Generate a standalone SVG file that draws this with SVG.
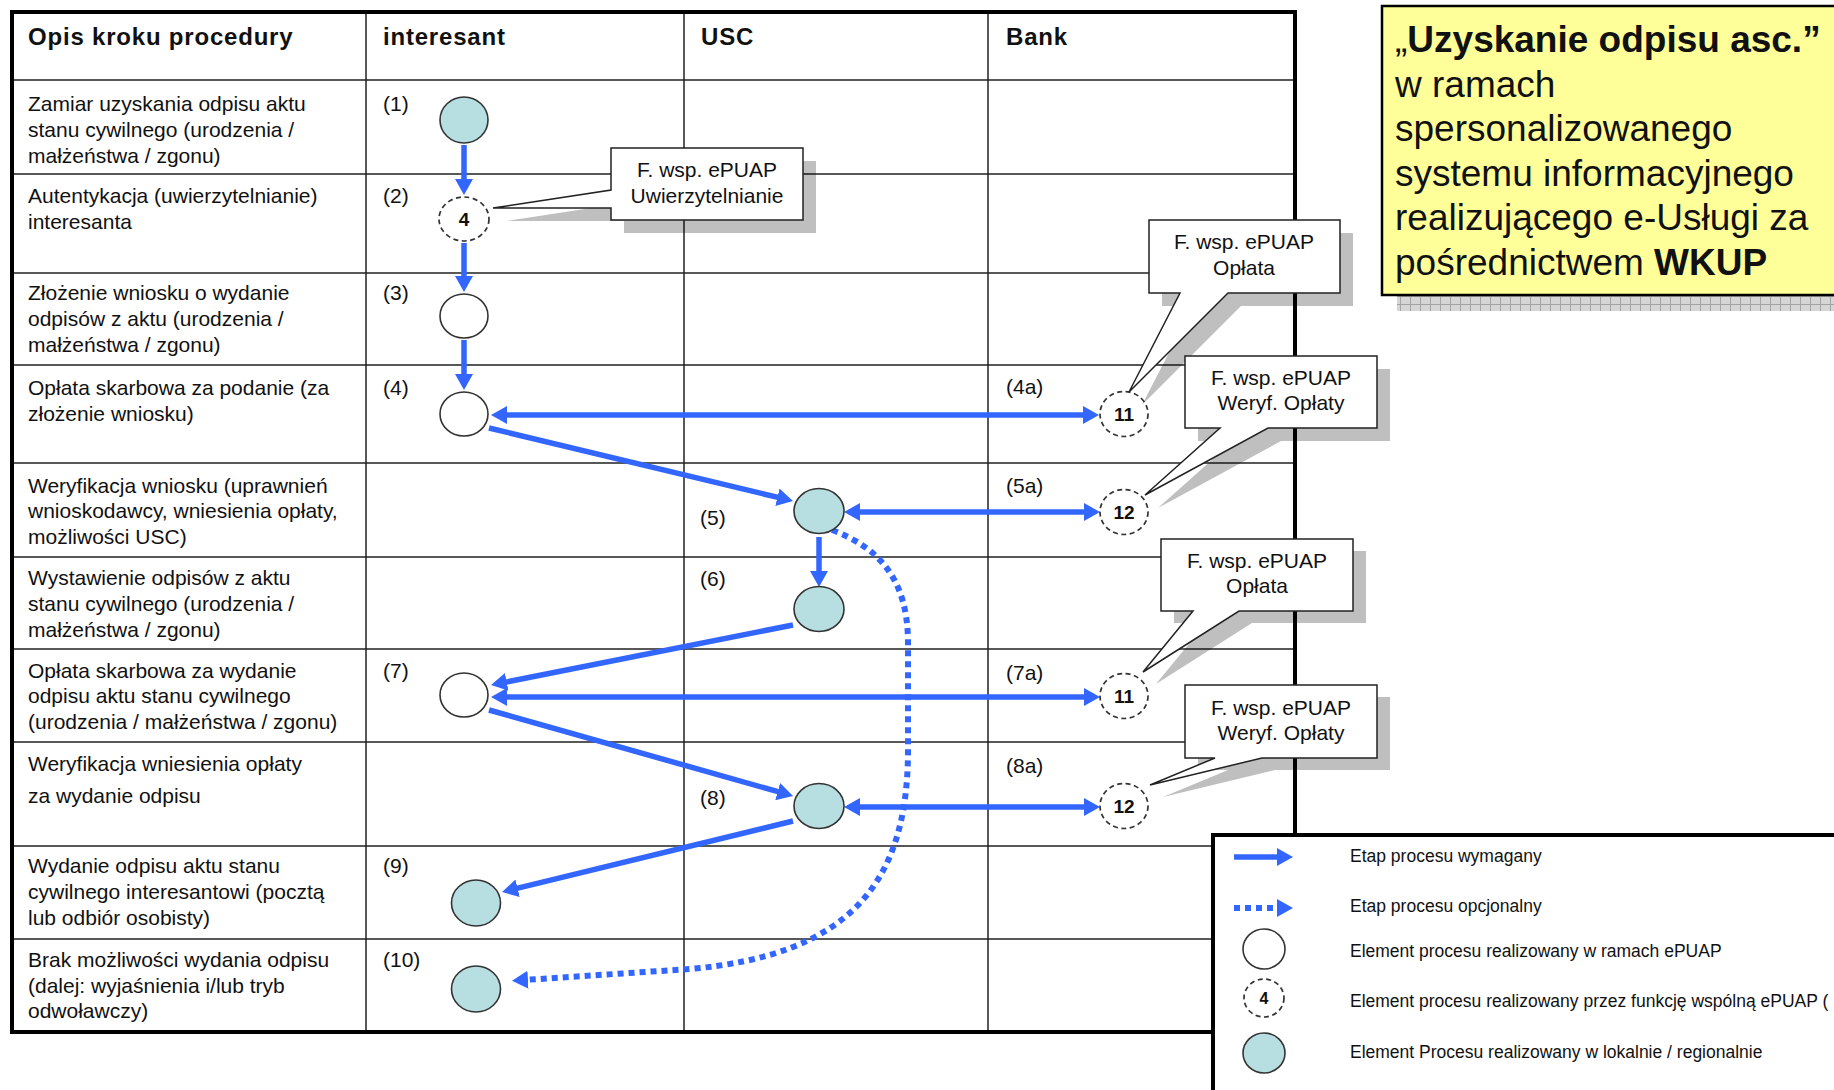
<svg xmlns="http://www.w3.org/2000/svg" width="1834" height="1090" viewBox="0 0 1834 1090">
  <style>
    text { font-family: "Liberation Sans", Arial, sans-serif; fill: #111; }
    .hd { font-size: 24px; font-weight: bold; letter-spacing: 0.8px; }
    .tx { font-size: 21px; }
    .num { font-size: 19px; font-weight: bold; text-anchor: middle; }
    .ct { font-size: 21px; text-anchor: middle; }
    .lg { font-size: 17.5px; }
    .ttl { font-size: 37px; }
    .grid { stroke: #222; stroke-width: 1.5; fill: none; }
    .frame { stroke: #000; stroke-width: 4; fill: none; }
    .flow { stroke: #3366FF; stroke-width: 5.5; fill: none; }
    .opt { stroke-width: 6; stroke-dasharray: 6 5; }
    .ep { fill: #fff; stroke: #333; stroke-width: 1.6; }
    .loc { fill: #B7DEE0; stroke: #333; stroke-width: 1.6; }
    .fw { fill: #fff; stroke: #333; stroke-width: 1.7; stroke-dasharray: 5 3.5; }
    .co { fill: #fff; stroke: #222; stroke-width: 1.5; }
    .cs { fill: #000; opacity: 0.25; }
  </style>
  <defs>
    <marker id="ah" viewBox="0 0 16 18" refX="4" refY="9" markerWidth="16" markerHeight="18" markerUnits="userSpaceOnUse" orient="auto-start-reverse">
      <path d="M0,0 L16,9 L0,18 Z" fill="#3366FF"/>
    </marker>
    <pattern id="hatch" width="10" height="8" patternUnits="userSpaceOnUse">
      <rect width="10" height="8" fill="#D6D6D6"/>
      <path d="M0,0.5 H10 M0.5,0 V8" stroke="#A4A4A4" stroke-width="1"/>
    </pattern>
  </defs>

  <rect width="1834" height="1090" fill="#fff"/>

  <!-- swimlane table -->
  <g id="table">
    <rect x="12" y="12" width="1283" height="1020" fill="#fff"/>
    <path class="grid" d="M366,12 V1032 M684,12 V1032 M988,12 V1032
      M12,80 H1295 M12,174 H1295 M12,273 H1295 M12,365 H1295 M12,463 H1295
      M12,557 H1295 M12,649 H1295 M12,742 H1295 M12,846 H1295 M12,939 H1295"/>
    <rect class="frame" x="12" y="12" width="1283" height="1020"/>
    <text class="hd" x="28" y="45">Opis kroku procedury</text>
    <text class="hd" x="383" y="45">interesant</text>
    <text class="hd" x="701" y="45">USC</text>
    <text class="hd" x="1006" y="45">Bank</text>

    <g class="tx">
      <text x="28" y="111">Zamiar uzyskania odpisu aktu</text>
      <text x="28" y="137">stanu cywilnego (urodzenia /</text>
      <text x="28" y="163">małżeństwa / zgonu)</text>
      <text x="28" y="203">Autentykacja (uwierzytelnianie)</text>
      <text x="28" y="229">interesanta</text>
      <text x="28" y="300">Złożenie wniosku o wydanie</text>
      <text x="28" y="326">odpisów z aktu (urodzenia /</text>
      <text x="28" y="352">małżeństwa / zgonu)</text>
      <text x="28" y="395">Opłata skarbowa za podanie (za</text>
      <text x="28" y="421">złożenie wniosku)</text>
      <text x="28" y="493">Weryfikacja wniosku (uprawnień</text>
      <text x="28" y="518">wnioskodawcy, wniesienia opłaty,</text>
      <text x="28" y="544">możliwości USC)</text>
      <text x="28" y="585">Wystawienie odpisów z aktu</text>
      <text x="28" y="611">stanu cywilnego (urodzenia /</text>
      <text x="28" y="637">małżeństwa / zgonu)</text>
      <text x="28" y="678">Opłata skarbowa za wydanie</text>
      <text x="28" y="703">odpisu aktu stanu cywilnego</text>
      <text x="28" y="729">(urodzenia / małżeństwa / zgonu)</text>
      <text x="28" y="771">Weryfikacja wniesienia opłaty</text>
      <text x="28" y="803">za wydanie odpisu</text>
      <text x="28" y="873">Wydanie odpisu aktu stanu</text>
      <text x="28" y="899">cywilnego interesantowi (pocztą</text>
      <text x="28" y="925">lub odbiór osobisty)</text>
      <text x="28" y="967">Brak możliwości wydania odpisu</text>
      <text x="28" y="993">(dalej: wyjaśnienia i/lub tryb</text>
      <text x="28" y="1018">odwoławczy)</text>
    </g>

    <!-- step numbers -->
    <g class="tx">
      <text x="383" y="111">(1)</text>
      <text x="383" y="203">(2)</text>
      <text x="383" y="300">(3)</text>
      <text x="383" y="395">(4)</text>
      <text x="383" y="678">(7)</text>
      <text x="383" y="873">(9)</text>
      <text x="383" y="967">(10)</text>
      <text x="700" y="525">(5)</text>
      <text x="700" y="586">(6)</text>
      <text x="700" y="805">(8)</text>
      <text x="1006" y="394">(4a)</text>
      <text x="1006" y="493">(5a)</text>
      <text x="1006" y="680">(7a)</text>
      <text x="1006" y="773">(8a)</text>
    </g>
  </g>

  <!-- process flow -->
  <g id="connectors">
    <path class="flow" marker-end="url(#ah)" d="M464,145 V183"/>
    <path class="flow" marker-end="url(#ah)" d="M464,243 V280"/>
    <path class="flow" marker-end="url(#ah)" d="M464,340 V378"/>
    <path class="flow" marker-start="url(#ah)" marker-end="url(#ah)" d="M503,415 H1087"/>
    <path class="flow" marker-end="url(#ah)" d="M489,428 L781.3,498.2"/>
    <path class="flow" marker-start="url(#ah)" marker-end="url(#ah)" d="M856,512 H1088"/>
    <path class="flow" marker-end="url(#ah)" d="M819,537 V575"/>
    <path class="flow" marker-end="url(#ah)" d="M793,625 L502.8,682.7"/>
    <path class="flow" marker-start="url(#ah)" marker-end="url(#ah)" d="M503,697 H1088"/>
    <path class="flow" marker-end="url(#ah)" d="M489,710 L781.5,792.7"/>
    <path class="flow" marker-start="url(#ah)" marker-end="url(#ah)" d="M856,807 H1088"/>
    <path class="flow" marker-end="url(#ah)" d="M793,821 L513.7,889.2"/>
    <path class="flow opt" marker-end="url(#ah)" d="M832,530 C880,548 907,580 908,640 L908,750 C908,885 848,955 690,969 L524,980"/>
  </g>

  <!-- nodes -->
  <g id="n1"><ellipse class="loc" cx="464" cy="120" rx="24" ry="23"/></g>
  <g id="n2"><ellipse class="fw" cx="464" cy="219" rx="25" ry="22"/><text class="num" x="464" y="226">4</text></g>
  <g id="n3"><ellipse class="ep" cx="464" cy="316" rx="24" ry="22"/></g>
  <g id="n4"><ellipse class="ep" cx="464" cy="414" rx="24" ry="22"/></g>
  <g id="n5"><ellipse class="loc" cx="819" cy="511" rx="25" ry="22.5"/></g>
  <g id="n6"><ellipse class="loc" cx="819" cy="609" rx="25" ry="22.5"/></g>
  <g id="n7"><ellipse class="ep" cx="464" cy="695" rx="24" ry="22"/></g>
  <g id="n8"><ellipse class="loc" cx="819" cy="806" rx="25" ry="22.5"/></g>
  <g id="n9"><ellipse class="loc" cx="476" cy="903" rx="24.5" ry="23"/></g>
  <g id="n10"><ellipse class="loc" cx="476" cy="989" rx="24.5" ry="23"/></g>
  <g id="n4a"><ellipse class="fw" cx="1124" cy="414" rx="24" ry="22.5"/><text class="num" x="1124" y="421">11</text></g>
  <g id="n5a"><ellipse class="fw" cx="1124" cy="512" rx="24" ry="22.5"/><text class="num" x="1124" y="519">12</text></g>
  <g id="n7a"><ellipse class="fw" cx="1124" cy="696" rx="24" ry="22.5"/><text class="num" x="1124" y="703">11</text></g>
  <g id="n8a"><ellipse class="fw" cx="1124" cy="806" rx="24" ry="22.5"/><text class="num" x="1124" y="813">12</text></g>

  <!-- shared-function callouts -->
  <g id="callout-auth">
    <path class="cs" transform="translate(13,13)" d="M611,148 H803 V220 H611 V208 L493,208 L611,190 Z"/>
    <path class="co" d="M611,148 H803 V220 H611 V208 L493,208 L611,190 Z"/>
    <text class="ct" x="707" y="177">F. wsp. ePUAP</text>
    <text class="ct" x="707" y="203">Uwierzytelnianie</text>
  </g>
  <g id="callout-pay1">
    <path class="cs" transform="translate(13,13)" d="M1149,220 H1340 V293 H1228 L1129,392 L1180,293 H1149 Z"/>
    <path class="co" d="M1149,220 H1340 V293 H1228 L1129,392 L1180,293 H1149 Z"/>
    <text class="ct" x="1244" y="249">F. wsp. ePUAP</text>
    <text class="ct" x="1244" y="275">Opłata</text>
  </g>
  <g id="callout-ver1">
    <path class="cs" transform="translate(13,13)" d="M1185,356 H1377 V428 H1268 L1145,495 L1220,428 H1185 Z"/>
    <path class="co" d="M1185,356 H1377 V428 H1268 L1145,495 L1220,428 H1185 Z"/>
    <text class="ct" x="1281" y="385">F. wsp. ePUAP</text>
    <text class="ct" x="1281" y="410">Weryf. Opłaty</text>
  </g>
  <g id="callout-pay2">
    <path class="cs" transform="translate(13,12)" d="M1161,539 H1353 V611 H1239 L1143,672 L1193,611 H1161 Z"/>
    <path class="co" d="M1161,539 H1353 V611 H1239 L1143,672 L1193,611 H1161 Z"/>
    <text class="ct" x="1257" y="568">F. wsp. ePUAP</text>
    <text class="ct" x="1257" y="593">Opłata</text>
  </g>
  <g id="callout-ver2">
    <path class="cs" transform="translate(13,12)" d="M1185,685 H1377 V758 H1262 L1150,785 L1215,758 H1185 Z"/>
    <path class="co" d="M1185,685 H1377 V758 H1262 L1150,785 L1215,758 H1185 Z"/>
    <text class="ct" x="1281" y="715">F. wsp. ePUAP</text>
    <text class="ct" x="1281" y="740">Weryf. Opłaty</text>
  </g>

  <!-- title panel -->
  <g id="title">
    <rect x="1397" y="296" width="450" height="15" fill="url(#hatch)"/>
    <rect x="1382" y="6" width="470" height="289" fill="#FFFF99" stroke="#000" stroke-width="2.5"/>
    <g class="ttl">
      <text x="1395" y="52">„<tspan font-weight="bold">Uzyskanie odpisu asc.”</tspan></text>
      <text x="1395" y="97">w ramach</text>
      <text x="1395" y="141">spersonalizowanego</text>
      <text x="1395" y="186">systemu informacyjnego</text>
      <text x="1395" y="230">realizującego e-Usługi za</text>
      <text x="1395" y="275">pośrednictwem <tspan font-weight="bold">WKUP</tspan></text>
    </g>
  </g>

  <!-- legend -->
  <g id="legend">
    <rect x="1213" y="835" width="640" height="270" fill="#fff" stroke="#000" stroke-width="4"/>
    <path class="flow" marker-end="url(#ah)" d="M1234,857 H1281"/>
    <path class="flow opt" marker-end="url(#ah)" d="M1234,908 H1281"/>
    <ellipse class="ep" cx="1264" cy="949" rx="21" ry="20"/>
    <ellipse class="fw" cx="1264" cy="998" rx="20" ry="19"/>
    <text class="num" x="1264" y="1004" style="font-size:16px">4</text>
    <ellipse class="loc" cx="1264" cy="1053" rx="21" ry="20"/>
    <g class="lg">
      <text x="1350" y="862">Etap procesu wymagany</text>
      <text x="1350" y="912">Etap procesu opcjonalny</text>
      <text x="1350" y="957">Element procesu realizowany w ramach ePUAP</text>
      <text x="1350" y="1007">Element procesu realizowany przez funkcję wspólną ePUAP (</text>
      <text x="1350" y="1058">Element Procesu realizowany w lokalnie / regionalnie</text>
    </g>
  </g>
</svg>
